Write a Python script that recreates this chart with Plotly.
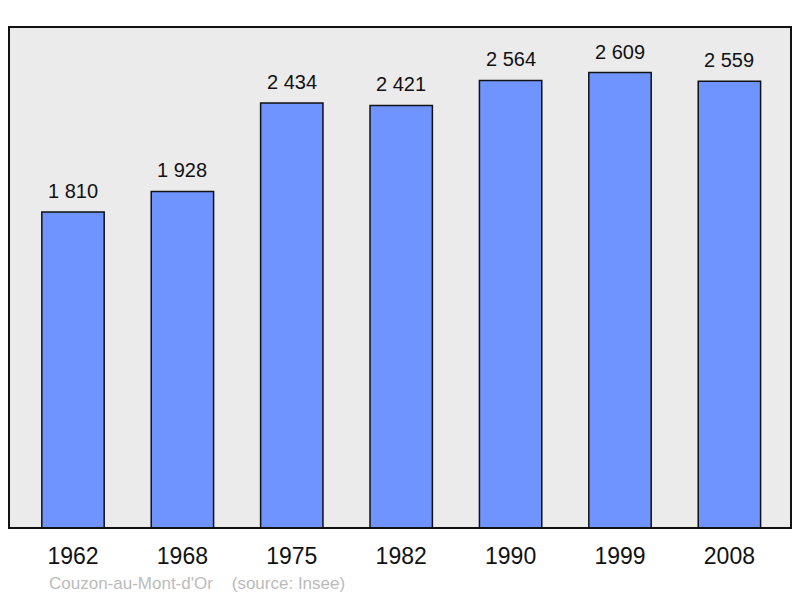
import plotly.graph_objects as go

# population data
years = ["1962", "1968", "1975", "1982", "1990", "1999", "2008"]
population = [1810, 1928, 2434, 2421, 2564, 2609, 2559]
value_labels = ["1 810", "1 928", "2 434", "2 421", "2 564", "2 609", "2 559"]
caption = "Couzon-au-Mont-d'Or    (source: Insee)"

fig = go.Figure()

fig.add_trace(go.Bar(
    x=years,
    y=population,
    width=0.57,
    marker=dict(color="#7094FF", line=dict(color="#111111", width=1.5)),
    hoverinfo="x+y",
))

# value labels above the bars (x as category index)
for i, (val, lbl) in enumerate(zip(population, value_labels)):
    fig.add_annotation(
        x=i, y=val, text=lbl, showarrow=False,
        yanchor="bottom", yshift=8,
        font=dict(family="Liberation Sans, Arial", size=20, color="#111111"),
    )

fig.add_annotation(
    xref="paper", yref="paper", x=0.049, y=-0.11,
    xanchor="left", yanchor="middle", text=caption.replace(" ", "&nbsp;"),
    showarrow=False,
    font=dict(family="Liberation Sans, Arial", size=17, color="#BBBBBB"),
)

# frame around the plot area
fig.add_shape(
    type="rect", xref="paper", yref="paper", x0=0, y0=0, x1=1, y1=1,
    line=dict(color="#111111", width=2), layer="above",
)

# page body has an 8px margin, so the figure is shifted by that much
fig.update_layout(
    width=792, height=590,
    margin=dict(l=1, r=9, t=19, b=70),
    plot_bgcolor="#EBEBEB",
    paper_bgcolor="white",
    showlegend=False,
    font=dict(family="Liberation Sans, Arial", color="#111111"),
)
fig.update_xaxes(
    type="category", range=[-0.585, 6.563],
    showgrid=False, ticks="", tickfont=dict(size=23),
    ticklabelstandoff=12,
)
fig.update_yaxes(
    range=[0, 2870], showgrid=False, showticklabels=False, zeroline=False,
)

fig.write_html("out.html")
